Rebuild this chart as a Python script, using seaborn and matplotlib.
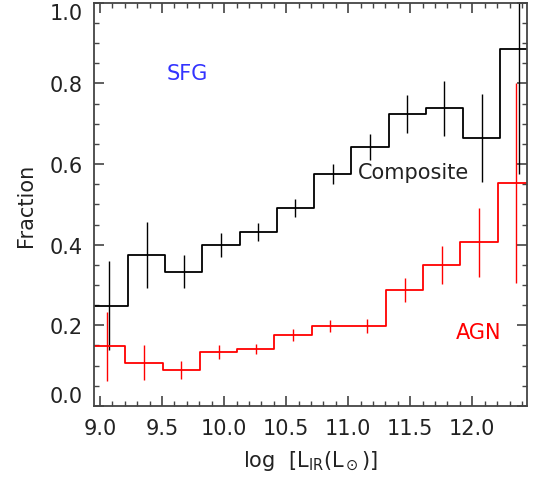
import numpy as np
import pandas as pd
import matplotlib
matplotlib.use("Agg")
import matplotlib.pyplot as plt
from matplotlib.ticker import MultipleLocator, FormatStrFormatter
import seaborn as sns

# bin centres (log L_IR) and fractions
comp_x = [9.075, 9.375, 9.675, 9.975, 10.275, 10.575, 10.875, 11.175, 11.475, 11.775, 12.075, 12.375]
comp_frac = [0.249, 0.374, 0.333, 0.399, 0.431, 0.491, 0.576, 0.642, 0.724, 0.738, 0.665, 0.886]
comp_err = [0.110, 0.082, 0.041, 0.029, 0.023, 0.022, 0.025, 0.033, 0.047, 0.069, 0.110, 0.310]

agn_x = [9.055, 9.355, 9.655, 9.955, 10.255, 10.555, 10.855, 11.155, 11.455, 11.755, 12.055, 12.355]
agn_frac = [0.148, 0.107, 0.089, 0.134, 0.142, 0.175, 0.199, 0.198, 0.288, 0.350, 0.406, 0.553]
agn_err = [0.086, 0.043, 0.023, 0.017, 0.012, 0.015, 0.015, 0.018, 0.030, 0.047, 0.086, 0.247]

bin_width = 0.3

sns.set_style("ticks")
plt.rcParams['font.family'] = ['DejaVu Sans']

fig = plt.figure(figsize=(5.36, 4.81), dpi=100)
ax = fig.add_axes([0.175, 0.154, 0.808, 0.838])

text_col = '#222222'

def draw(x, frac, err, color):
    df = pd.DataFrame({'x': x, 'frac': frac})
    edges = [c - bin_width / 2 for c in x] + [x[-1] + bin_width / 2]
    sns.histplot(data=df, x='x', weights='frac', bins=edges, element='step', fill=False,
                 color=color, linewidth=1.3, ax=ax)
    ax.errorbar(x, frac, yerr=err, fmt='none', ecolor=color, elinewidth=1.0)

draw(comp_x, comp_frac, comp_err, 'black')
draw(agn_x, agn_frac, agn_err, 'red')

ax.text(9.70, 0.826, 'SFG', color='#3333ff', fontsize=15, ha='center', va='center')
ax.text(11.53, 0.58, 'Composite', color=text_col, fontsize=15, ha='center', va='center')
ax.text(12.05, 0.184, 'AGN', color='red', fontsize=15, ha='center', va='center')

ax.set_xlim(8.95, 12.44)
ax.set_ylim(0, 1.0)
ax.xaxis.set_major_locator(MultipleLocator(0.5))
ax.xaxis.set_minor_locator(MultipleLocator(0.1))
ax.yaxis.set_major_locator(MultipleLocator(0.2))
ax.yaxis.set_minor_locator(MultipleLocator(0.05))
ax.xaxis.set_major_formatter(FormatStrFormatter('%.1f'))
ax.yaxis.set_major_formatter(FormatStrFormatter('%.1f'))

ax.tick_params(which='both', direction='in', top=True, right=True,
               colors='#444444', labelcolor=text_col, labelsize=15)
ax.tick_params(which='major', length=7, width=1.2)
ax.tick_params(which='minor', length=3.5, width=1.0)
ax.tick_params(axis='x', which='major', pad=9)
ax.tick_params(axis='y', which='major', pad=8)
for s in ax.spines.values():
    s.set_color('#444444')
    s.set_linewidth(1.3)

# keep the end labels inside the frame like the original
locs = ax.yaxis.get_majorticklocs()
for loc, tick in zip(locs, ax.yaxis.get_major_ticks(len(locs))):
    if abs(loc - 1.0) < 1e-6:
        tick.label1.set_va('top')
    elif abs(loc) < 1e-6:
        tick.label1.set_va('bottom')

ax.set_xlabel(r'log  [L$_{\rm IR}$(L$_\odot$)]', fontsize=15, color=text_col, labelpad=7)
ax.set_ylabel('Fraction', fontsize=15, color=text_col, labelpad=10)

fig.savefig('out.png', dpi=100)
